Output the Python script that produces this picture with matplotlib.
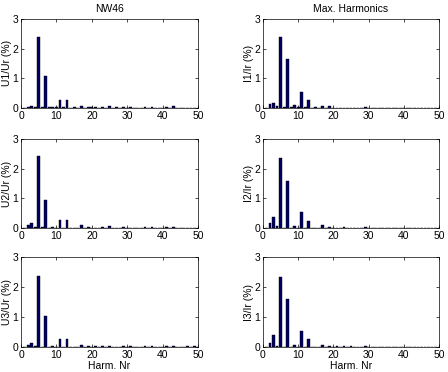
import numpy as np
import matplotlib
matplotlib.use("Agg")
import matplotlib.pyplot as plt

plt.rcParams["font.family"] = ["Liberation Sans", "DejaVu Sans"]
plt.rcParams["font.size"] = 7.5

harmonics = np.arange(1, 51)


def spectrum(values):
    # values: dict harmonic -> percent
    out = np.zeros(50)
    for h, v in values.items():
        out[h - 1] = v
    return out


u1 = spectrum({2: 0.03, 3: 0.05, 4: 0.02, 5: 2.4, 6: 0.02, 7: 1.07, 8: 0.02, 9: 0.03,
               10: 0.02, 11: 0.28, 12: 0.02, 13: 0.28, 14: 0.01, 15: 0.03, 17: 0.07,
               19: 0.04, 20: 0.02, 21: 0.03, 22: 0.01, 23: 0.03, 25: 0.05, 27: 0.02,
               29: 0.03, 31: 0.02, 33: 0.01, 35: 0.02, 37: 0.02, 39: 0.01, 41: 0.03,
               43: 0.05, 45: 0.01, 47: 0.01, 49: 0.01})
u2 = spectrum({2: 0.10, 3: 0.18, 4: 0.05, 5: 2.42, 6: 0.02, 7: 0.95, 9: 0.03, 11: 0.28,
               13: 0.28, 17: 0.09, 19: 0.03, 23: 0.03, 25: 0.06, 29: 0.02, 35: 0.02,
               37: 0.04, 41: 0.02, 43: 0.04})
u3 = spectrum({2: 0.07, 3: 0.14, 4: 0.04, 5: 2.37, 7: 1.03, 9: 0.04, 11: 0.28, 13: 0.28,
               17: 0.07, 19: 0.04, 21: 0.02, 23: 0.03, 25: 0.05, 29: 0.03, 31: 0.02,
               35: 0.03, 37: 0.03, 41: 0.02, 43: 0.03, 47: 0.02, 49: 0.02})
i1 = spectrum({2: 0.13, 3: 0.15, 4: 0.05, 5: 2.4, 6: 0.03, 7: 1.65, 8: 0.02, 9: 0.10,
               10: 0.02, 11: 0.52, 12: 0.02, 13: 0.27, 15: 0.02, 17: 0.07, 19: 0.07,
               21: 0.01, 23: 0.01, 29: 0.02, 41: 0.01, 43: 0.01, 45: 0.01, 49: 0.01, 50: 0.01})
i2 = spectrum({2: 0.17, 3: 0.37, 4: 0.07, 5: 2.37, 7: 1.6, 9: 0.07, 11: 0.55, 13: 0.25,
               17: 0.10, 19: 0.04, 23: 0.02, 29: 0.02})
i3 = spectrum({2: 0.12, 3: 0.40, 4: 0.03, 5: 2.35, 7: 1.6, 9: 0.07, 11: 0.53, 13: 0.27,
               17: 0.08, 19: 0.05, 21: 0.02, 23: 0.02, 25: 0.02, 29: 0.02})

left_data = [u1, u2, u3]
right_data = [i1, i2, i3]
left_labels = ["U1/Ur (%)", "U2/Ur (%)", "U3/Ur (%)"]
right_labels = ["I1/Ir (%)", "I2/Ir (%)", "I3/Ir (%)"]

fig = plt.figure(figsize=(4.48, 3.72), dpi=100)
rows = [(0.710, 0.239), (0.387, 0.239), (0.067, 0.242)]
cols = [(0.047, 0.395), (0.587, 0.393)]

for r, (bottom, height) in enumerate(rows):
    for c, (left, width) in enumerate(cols):
        ax = fig.add_axes([left, bottom, width, height])
        data = left_data[r] if c == 0 else right_data[r]
        ax.bar(harmonics, data, width=0.8, color="#000066", edgecolor="black", linewidth=0.3)
        ax.set_xlim(0, 50)
        ax.set_ylim(0, 3)
        ax.set_xticks([0, 10, 20, 30, 40, 50])
        ax.set_yticks([0, 1, 2, 3])
        ax.tick_params(direction="in", length=2.5, width=0.5, top=True, right=True, pad=2)
        for s in ax.spines.values():
            s.set_linewidth(0.5)
        ax.set_ylabel(left_labels[r] if c == 0 else right_labels[r], labelpad=0.5)
        if r == 0:
            ax.set_title("NW46" if c == 0 else "Max. Harmonics", fontsize=7.5, pad=5)
        if r == 2:
            ax.set_xlabel("Harm. Nr", labelpad=1)

fig.savefig("out.png", dpi=100)
